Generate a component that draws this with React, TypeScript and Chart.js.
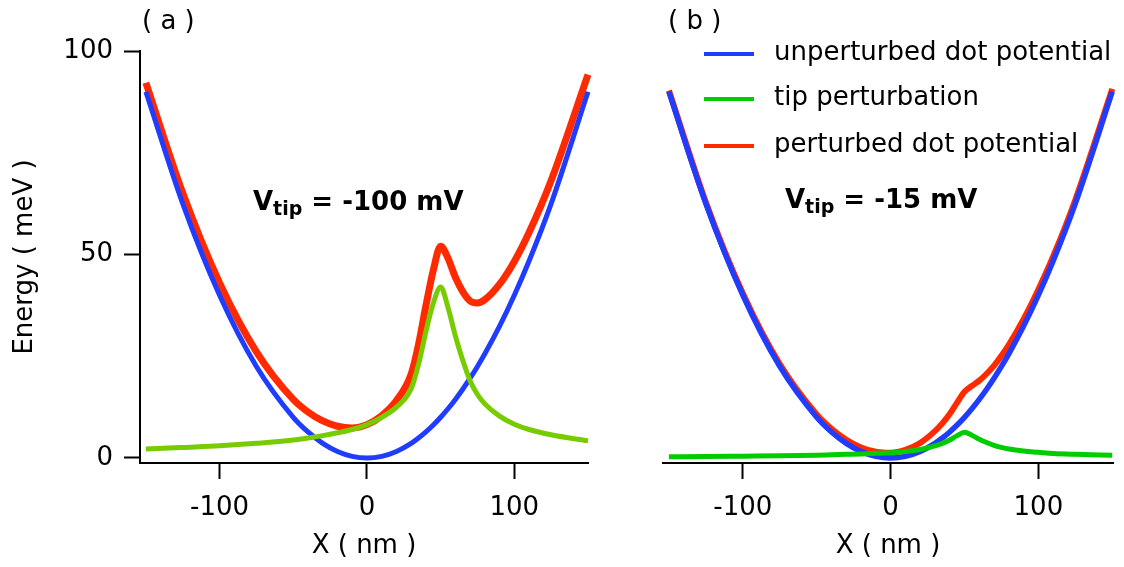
import { useEffect, useRef } from "react";
import { Chart, registerables } from "chart.js";

Chart.register(...registerables);

// ---- data ----
const xNm = [-150, -125, -100, -75, -50, -40, -30, -20, -10, 0, 10, 20, 30, 35, 40, 45, 50, 55, 60, 65, 70, 75, 80, 90, 100, 110, 125, 150];

const unperturbed = [90, 62.5, 40, 22.5, 10, 6.4, 3.6, 1.6, 0.4, 0, 0.4, 1.6, 3.6, 4.9, 6.4, 8.1, 10, 12.1, 14.4, 16.9, 19.6, 22.5, 25.6, 32.4, 40, 48.4, 62.5, 90];

const tipA = [2.2, 2.6, 3.0, 3.6, 4.4, 4.9, 5.5, 6.2, 7.0, 8.2, 10, 12.5, 17, 23, 31, 38, 42, 37, 30, 24, 19, 15.6, 13.3, 10.3, 8.3, 7, 5.7, 4.2];
const perturbedA = [92.2, 65.1, 43, 26.1, 14.4, 11.3, 9.1, 7.8, 7.4, 8.2, 10.4, 14.1, 20.6, 27.9, 37.4, 46.1, 52, 49.1, 44.4, 40.9, 38.6, 38.1, 38.9, 42.7, 48.3, 55.4, 68.2, 94.2];

const tipB = [0.3, 0.35, 0.45, 0.55, 0.7, 0.8, 0.9, 1.0, 1.15, 1.3, 1.6, 2.1, 3.0, 3.6, 4.4, 5.5, 6.3, 5.6, 4.6, 3.8, 3.1, 2.6, 2.2, 1.7, 1.4, 1.1, 0.9, 0.7];
const perturbedB = [90.3, 62.85, 40.45, 23.05, 10.7, 7.2, 4.5, 2.6, 1.55, 1.3, 2.0, 3.7, 6.6, 8.5, 10.8, 13.6, 16.3, 17.7, 19.0, 20.7, 22.7, 25.1, 27.8, 34.1, 41.4, 49.5, 63.4, 90.7];

const xTicks = [-100, 0, 100];
const yTicks = [0, 50, 100];

const seriesLabels = ["unperturbed dot potential", "tip perturbation", "perturbed dot potential"];

const FONT = "'DejaVu Sans', sans-serif";
const BLUE = "#1f3cff";
const RED = "#ff2a00";
const GREEN_A = "#77cc00";
const GREEN_B = "#00cc00";

const pts = (ys: number[]) => xNm.map((x, i) => ({ x, y: ys[i] }));

const annotationPlugin = {
  id: "annot",
  afterDraw(chart: any, _args: any, opts: any) {
    const ctx = chart.ctx;
    ctx.save();
    ctx.fillStyle = "#000";
    ctx.textBaseline = "alphabetic";
    ctx.textAlign = "left";
    // panel label
    ctx.font = `26px ${FONT}`;
    ctx.fillText(opts.panel, opts.panelX, opts.panelY);
    // V_tip text
    let x = opts.vX;
    const y = opts.vY;
    ctx.font = `bold 26px ${FONT}`;
    ctx.fillText("V", x, y);
    x += ctx.measureText("V").width;
    ctx.font = `bold 19px ${FONT}`;
    ctx.fillText("tip", x, y + 5);
    x += ctx.measureText("tip").width;
    ctx.font = `bold 26px ${FONT}`;
    ctx.fillText(opts.vText, x, y);
    // legend
    if (opts.legend) {
      const lg = opts.legend;
      chart.data.datasets.forEach((ds: any, i: number) => {
        const ly = lg.rows[i];
        ctx.strokeStyle = ds.borderColor;
        ctx.lineWidth = 4;
        ctx.beginPath();
        ctx.moveTo(lg.x0, ly);
        ctx.lineTo(lg.x1, ly);
        ctx.stroke();
        ctx.font = `26px ${FONT}`;
        ctx.fillText(ds.label, lg.tx, ly + 6);
      });
    }
    ctx.restore();
  },
};

function makeConfig(p: {
  tip: number[];
  pert: number[];
  green: string;
  xMin: number;
  xMax: number;
  showY: boolean;
  padLeft: number;
  padRight: number;
  widths: number[];
  annot: any;
}) {
  const tickFont = { family: FONT, size: 26 };
  return {
    type: "scatter" as const,
    data: {
      datasets: [
        { label: seriesLabels[0], data: pts(unperturbed), borderColor: BLUE, borderWidth: p.widths[0], order: 2 },
        { label: seriesLabels[1], data: pts(p.tip), borderColor: p.green, borderWidth: p.widths[1], order: 1 },
        { label: seriesLabels[2], data: pts(p.pert), borderColor: RED, borderWidth: p.widths[2], order: 3 },
      ].map((d) => ({
        ...d,
        showLine: true,
        pointRadius: 0,
        pointHoverRadius: 0,
        fill: false,
        cubicInterpolationMode: "monotone" as const,
        clip: false as any,
        borderCapStyle: "butt" as const,
        borderJoinStyle: "round" as const,
      })),
    },
    options: {
      animation: false as const,
      responsive: false,
      events: [],
      layout: { padding: { top: 51, bottom: 0, left: p.padLeft, right: p.padRight } },
      plugins: {
        legend: { display: false },
        tooltip: { enabled: false },
        annot: p.annot,
      },
      scales: {
        x: {
          type: "linear" as const,
          min: p.xMin,
          max: p.xMax,
          border: { display: true, color: "#000", width: 2 },
          grid: { display: true, drawOnChartArea: false, drawTicks: true, tickLength: 16, tickWidth: 2, tickColor: "#000" },
          ticks: { font: tickFont, color: "#000", padding: 14, maxRotation: 0 },
          afterBuildTicks: (s: any) => {
            s.ticks = xTicks.map((v) => ({ value: v }));
          },
          afterFit: (s: any) => {
            s.height = 104;
          },
          title: {
            display: true,
            text: "X ( nm )",
            color: "#000",
            font: { family: FONT, size: 26 },
            padding: { top: 0, bottom: 5 },
          },
        },
        y: {
          type: "linear" as const,
          display: p.showY,
          min: -1.23,
          max: 100,
          border: { display: true, color: "#000", width: 2 },
          grid: { display: true, drawOnChartArea: false, drawTicks: true, tickLength: 16, tickWidth: 2, tickColor: "#000" },
          ticks: { font: tickFont, color: "#000", padding: 11 },
          afterBuildTicks: (s: any) => {
            s.ticks = yTicks.map((v) => ({ value: v }));
          },
          afterFit: (s: any) => {
            s.width = p.showY ? 140 : 0;
          },
          title: {
            display: true,
            text: "Energy ( meV )",
            color: "#000",
            font: { family: FONT, size: 26 },
            padding: { top: 10, bottom: 0 },
          },
        },
      },
    },
    plugins: [annotationPlugin],
  };
}

export default function App() {
  const refA = useRef<HTMLCanvasElement>(null);
  const refB = useRef<HTMLCanvasElement>(null);

  useEffect(() => {
    const a = new Chart(
      refA.current!,
      makeConfig({
        tip: tipA,
        pert: perturbedA,
        green: GREEN_A,
        xMin: -154,
        xMax: 150,
        showY: true,
        padLeft: 0,
        padRight: 12,
        widths: [5, 5, 7],
        annot: { panel: "( a )", panelX: 142, panelY: 29, vX: 253, vY: 210, vText: " = -100 mV" },
      }) as any
    );
    const b = new Chart(
      refB.current!,
      makeConfig({
        tip: tipB,
        pert: perturbedB,
        green: GREEN_B,
        xMin: -154,
        xMax: 150.5,
        showY: false,
        padLeft: 63,
        padRight: 11,
        widths: [5.5, 5, 6],
        annot: {
          panel: "( b )",
          panelX: 68,
          panelY: 29,
          vX: 185,
          vY: 208,
          vText: " = -15 mV",
          legend: { x0: 104, x1: 154, tx: 174, rows: [54, 99, 146] },
        },
      }) as any
    );
    return () => {
      a.destroy();
      b.destroy();
    };
  }, []);

  return (
    <div style={{ position: "absolute", left: 0, top: 0, width: 1124, height: 567, background: "#fff" }}>
      <canvas ref={refA} width={600} height={567} style={{ position: "absolute", left: 0, top: 0, width: 600, height: 567 }} />
      <canvas ref={refB} width={524} height={567} style={{ position: "absolute", left: 600, top: 0, width: 524, height: 567 }} />
    </div>
  );
}
